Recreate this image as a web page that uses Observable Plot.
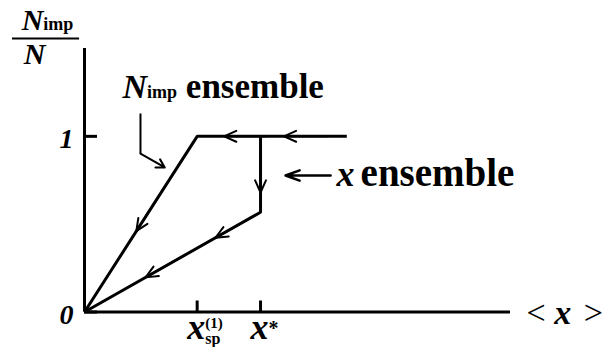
<!DOCTYPE html>
<html><head><meta charset="utf-8">
<script src="https://cdn.jsdelivr.net/npm/d3@7"></script>
<script src="https://cdn.jsdelivr.net/npm/@observablehq/plot@0.6"></script>
<style>body{margin:0;background:#fff}</style>
</head><body><div id="chart"></div>
<script>
// ---- data (data units: x* = 1 on x, N_imp/N = 1 on y) ----
const xExtent = [0, 2.42];
const yExtent = [0, 1.5];
const xTickValues = [0.64, 1];
const xTickLabels = ["x(1)sp", "x*"];
const yTickValues = [0, 1];
const yTickLabels = ["0", "1"];
const xAxisLabel = "< x >";
const yLabelTexts = ["Nimp", "N"];
// N_imp ensemble path
const nimpX = [1.49, 0.64, 0];
const nimpY = [1, 1, 0];
// x ensemble path
const xensX = [1, 1, 0];
const xensY = [1, 0.568, 0];
// arrowheads along the paths: which path, which segment, fraction along it
const arrowPath = ["nimp", "nimp", "nimp", "xens", "xens", "xens"];
const arrowSeg = [0, 0, 1, 0, 1, 1];
const arrowT = [0.42, 0.82, 0.54, 0.74, 0.256, 0.653];
// annotations
const noteTexts = ["Nimp ensemble", "x ensemble"];
const noteX = [0.216, 1.432];
const noteY = [1.221, 0.720];
const pointerNimpX = [0.318, 0.318, 0.456];
const pointerNimpY = [1.130, 0.902, 0.823];
const pointerXensX = [1.398, 1.142];
const pointerXensY = [0.777, 0.777];
const yLabelX = [-0.210, -0.345];
const yLabelY = [1.603, 1.409];
const yLabelBarX = [-0.409, -0.028];
const yLabelBarY = [1.557];

// ---- rich text styling ----
const B = "bold", I = "italic";
const richSpecs = {
  "Nimp ensemble": [{t: "N", w: B, s: I, size: 34}, {t: "imp", w: B, size: 18}, {t: " ensemble", w: B, size: 35}],
  "x ensemble": [{t: "x", s: I, w: B, size: 36}, {t: "ensemble", w: B, size: 39, dx: 6}],
  "Nimp": [{t: "N", w: B, s: I, size: 30}, {t: "imp", w: B, size: 18}],
  "N": [{t: "N", w: B, s: I, size: 30}],
  "x(1)sp": [{t: "x", w: B, s: I, size: 36}, {t: "(1)", w: B, size: 15, shift: -11}, {t: "sp", w: B, size: 16, shift: 5, stack: true}],
  "x*": [{t: "x", w: B, s: I, size: 36}, {t: "*", w: B, size: 20, shift: -4}],
  "< x >": [{t: "< ", size: 34}, {t: "x", w: B, s: I, size: 34}, {t: " >", size: 34, dx: 4}]
};

function applyRich(svg) {
  d3.select(svg).selectAll("text").each(function () {
    const spec = richSpecs[this.textContent];
    if (!spec) return;
    const el = d3.select(this);
    el.text(null);
    let shift = 0, prev = null;
    for (const s of spec) {
      const ts = el.append("tspan").text(s.t)
        .attr("font-size", s.size)
        .attr("font-weight", s.w || "normal")
        .attr("font-style", s.s || "normal");
      const target = s.shift || 0;
      if (target !== shift) ts.attr("dy", target - shift);
      shift = target;
      let dx = s.dx || 0;
      if (s.stack && prev) dx -= prev.node().getComputedTextLength();
      if (dx) ts.attr("dx", dx);
      prev = ts;
    }
  });
}

// ---- geometry helpers ----
const paths = {
  nimp: nimpX.map((x, i) => ({x, y: nimpY[i]})),
  xens: xensX.map((x, i) => ({x, y: xensY[i]}))
};
const tailLen = 0.25;
const arrows = arrowPath.map((p, i) => {
  const a = paths[p][arrowSeg[i]], b = paths[p][arrowSeg[i] + 1];
  const dx = b.x - a.x, dy = b.y - a.y, L = Math.hypot(dx, dy);
  const x2 = a.x + arrowT[i] * dx, y2 = a.y + arrowT[i] * dy;
  return {x1: x2 - tailLen * dx / L, y1: y2 - tailLen * dy / L, x2, y2};
});

const W = 615, H = 347;
const mL = 84, mR = 105, mT = 48, mB = 35.5;
const frameW = W - mL - mR, frameH = H - mT - mB;
const font = "'Liberation Serif', 'Times New Roman', Times, serif";

const plot = Plot.plot({
  width: W, height: H,
  marginLeft: mL, marginRight: mR, marginTop: mT, marginBottom: mB,
  x: {domain: xExtent, axis: null},
  y: {domain: yExtent, axis: null},
  style: {fontFamily: font, background: "white", overflow: "visible"},
  marks: [
    // axes
    Plot.ruleX([0], {stroke: "black", strokeWidth: 3}),
    Plot.ruleY([0], {stroke: "black", strokeWidth: 3}),
    Plot.tickX(xTickValues, {x: d => d, stroke: "black", strokeWidth: 3, insetTop: frameH - 11}),
    Plot.tickY(yTickValues, {y: d => d, stroke: "black", strokeWidth: 3, insetRight: frameW - 13}),
    // data paths
    Plot.line(paths.nimp, {x: "x", y: "y", stroke: "black", strokeWidth: 3, strokeLinejoin: "miter", strokeLinecap: "butt"}),
    Plot.line(paths.xens, {x: "x", y: "y", stroke: "black", strokeWidth: 3, strokeLinejoin: "miter", strokeLinecap: "butt"}),
    Plot.arrow(arrows, {x1: "x1", y1: "y1", x2: "x2", y2: "y2", stroke: "black", strokeWidth: 2, headLength: 10, headAngle: 48}),
    // annotation pointers
    Plot.line(pointerNimpX.slice(0, 2).map((x, i) => ({x, y: pointerNimpY[i]})), {x: "x", y: "y", stroke: "black", strokeWidth: 2, strokeLinejoin: "miter", strokeLinecap: "butt"}),
    Plot.arrow([{x1: pointerNimpX[1], y1: pointerNimpY[1], x2: pointerNimpX[2], y2: pointerNimpY[2]}], {x1: "x1", y1: "y1", x2: "x2", y2: "y2", stroke: "black", strokeWidth: 2, headLength: 9, headAngle: 60}),
    Plot.arrow([{x1: pointerXensX[0], y1: pointerXensY[0], x2: pointerXensX[1], y2: pointerXensY[1]}], {x1: "x1", y1: "y1", x2: "x2", y2: "y2", stroke: "black", strokeWidth: 2.5, headLength: 9, headAngle: 40}),
    // y label fraction bar
    Plot.ruleY(yLabelBarY, {y: d => d, x1: yLabelBarX[0], x2: yLabelBarX[1], stroke: "black", strokeWidth: 2}),
    // texts
    Plot.text(noteTexts, {x: (d, i) => noteX[i], y: (d, i) => noteY[i], text: d => d, textAnchor: "start", lineAnchor: "bottom", fontFamily: font}),
    Plot.text(yLabelTexts.slice(0, 1), {x: yLabelX[0], y: yLabelY[0], text: d => d, textAnchor: "middle", lineAnchor: "bottom", fontFamily: font}),
    Plot.text(yLabelTexts.slice(1), {x: yLabelX[1], y: yLabelY[1], text: d => d, textAnchor: "start", lineAnchor: "bottom", fontFamily: font}),
    Plot.text(xTickValues, {x: d => d, y: 0, text: (d, i) => xTickLabels[i], textAnchor: "start", lineAnchor: "bottom", dx: -10, dy: 26.5, fontFamily: font}),
    Plot.text(yTickValues, {x: 0, y: d => d, text: (d, i) => yTickLabels[i], textAnchor: "end", lineAnchor: "bottom", dx: -11, dy: 11.5, fontFamily: font, fontSize: 28, fontWeight: "bold", fontStyle: "italic"}),
    Plot.text([xAxisLabel], {x: xExtent[1], y: 0, text: d => d, textAnchor: "start", lineAnchor: "bottom", dx: 16, dy: 11.5, fontFamily: font})
  ]
});
document.getElementById("chart").appendChild(plot);
applyRich(plot);
</script>
</body></html>
